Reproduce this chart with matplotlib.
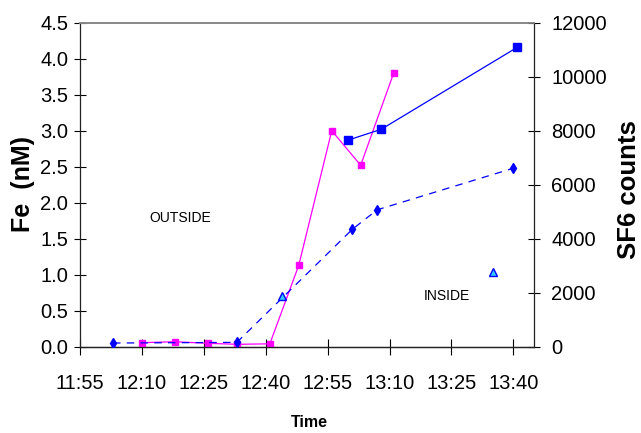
import matplotlib
matplotlib.use("Agg")
import matplotlib.pyplot as plt

# times as HH:MM
pink_times = ["12:10", "12:18", "12:26", "12:33", "12:41", "12:48", "12:56", "13:03", "13:11"]
pink_fe = [0.056, 0.069, 0.047, 0.033, 0.04, 1.13, 3.00, 2.52, 3.80]

sq_times = ["13:00", "13:08", "13:41"]
sq_fe = [2.87, 3.02, 4.16]

dia_times = ["12:03", "12:33", "13:01", "13:07", "13:40"]
dia_sf6 = [136, 160, 4350, 5070, 6610]

tri_times = ["12:44", "13:35"]
tri_sf6 = [1860, 2780]

xtick_labels = ["11:55", "12:10", "12:25", "12:40", "12:55", "13:10", "13:25", "13:40"]
fe_ticks = [0.0, 0.5, 1.0, 1.5, 2.0, 2.5, 3.0, 3.5, 4.0, 4.5]
sf6_ticks = [0, 2000, 4000, 6000, 8000, 10000, 12000]


def minutes(t):
    # minutes since 11:55
    h, m = t.split(":")
    return int(h) * 60 + int(m) - (11 * 60 + 55)


plt.rcParams["font.family"] = ["Liberation Sans", "DejaVu Sans"]

fig = plt.figure(figsize=(6.41, 4.33), dpi=100)
ax = fig.add_axes([80 / 641, 1 - 346.7 / 433, 454 / 641, 324 / 433])
ax2 = ax.twinx()

ax.plot([minutes(t) for t in pink_times], pink_fe, color="#ff00ff", lw=0.9,
        marker="s", ms=3.8, mec="#ff00ff", zorder=3)
ax.plot([minutes(t) for t in sq_times], sq_fe, color="#0000ff", lw=0.9,
        marker="s", ms=6.2, mec="#0000ff", zorder=3)
ax2.plot([minutes(t) for t in dia_times], dia_sf6, color="#0000ff", lw=0.9,
         ls=(0, (6, 5)), marker="d", ms=5.3, mec="#0000ff", zorder=3)
ax2.plot([minutes(t) for t in tri_times], tri_sf6, ls="none", marker="^", ms=5.5,
         mfc="#33ccff", mec="#0000ff", mew=1.0, zorder=4)

ax.set_xlim(0, 110)
ax.set_ylim(0, 4.5)
ax2.set_ylim(0, 12000)

ax.set_xticks(range(0, 106, 15))
ax.set_xticklabels(xtick_labels)
ax.set_yticks(fe_ticks)
ax.set_yticklabels(["%.1f" % v for v in fe_ticks])
ax2.set_yticks(sf6_ticks)
ax2.set_yticklabels([str(v) for v in sf6_ticks])

ax.tick_params(axis="x", direction="inout", length=11, width=0.8, pad=14, labelsize=14.5)
ax.tick_params(axis="y", direction="inout", length=9, width=0.8, pad=4, labelsize=14.5)
ax2.tick_params(axis="y", direction="inout", length=9, width=0.8, pad=8, labelsize=14.5)

for a in (ax, ax2):
    for side in ("left", "right", "bottom"):
        a.spines[side].set_color("#222222")
        a.spines[side].set_linewidth(0.9)
    a.spines["top"].set_color("#888888")
    a.spines["top"].set_linewidth(1.2)
ax.spines["right"].set_visible(False)
ax2.spines["left"].set_visible(False)

ax.text(24.4, 1.79, "OUTSIDE", fontsize=10, ha="center", va="center")
ax.text(88.9, 0.70, "INSIDE", fontsize=10, ha="center", va="center")

fig.text(23 / 641, 1 - 184 / 433, "Fe  (nM)", rotation=90, ha="center", va="center",
         fontsize=18, fontweight="bold")
fig.text(629 / 641, 1 - 190 / 433, "SF6 counts", rotation=90, ha="center", va="center",
         fontsize=18.5, fontweight="bold")
fig.text(309 / 641, 1 - 422.5 / 433, "Time", ha="center", va="center",
         fontsize=11.5, fontweight="bold")

fig.savefig("out.png", dpi=100)
